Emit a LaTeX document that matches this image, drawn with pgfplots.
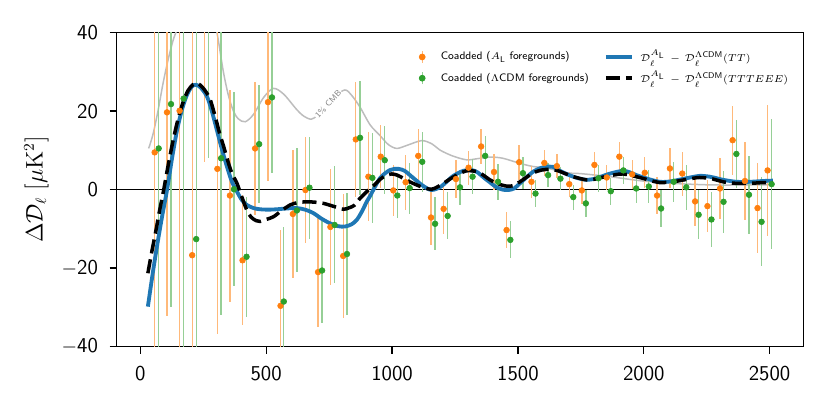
\documentclass[border=0pt]{standalone}
\usepackage{pgfplots}
\pgfplotsset{compat=1.18}
\usepackage{pgfplotstable}
\definecolor{mblue}{HTML}{1F77B4}
\definecolor{morange}{HTML}{FF7F0E}
\definecolor{mgreen}{HTML}{2CA02C}
\definecolor{mgray}{HTML}{BDBDBD}

\pgfplotstableread{
l v e
57 9.5 55
106 19.7 52
156 20.1 62
206 -16.7 62
256 44 37
306 5.3 42
356 -1.5 27
406 -18.0 16.6
456 10.5 17
507 22.3 20
557 -29.6 19.3
606 -6.2 16.2
656 -0.1 13.4
706 -21.0 14
755 -9.5 14.8
806 -16.9 15.7
856 12.8 14.7
906 3.3 11.4
955 8.4 8.1
1005 -0.2 6.5
1054 1.9 7
1104 8.6 6.8
1155 -7.1 7
1205 -4.9 6.5
1254 2.7 4.9
1304 5.6 4.3
1354 11.0 4.4
1405 4.5 4.7
1455 -10.3 4.6
1505 7.0 4.5
1554 2.0 4.0
1605 6.8 3.2
1655 6.0 3.1
1704 1.4 3.2
1754 -0.2 3.4
1804 6.3 3.2
1853 3.1 3.2
1903 8.4 3.7
1954 3.9 3.7
2004 4.3 4.0
2053 -1.5 4.7
2104 5.4 5.1
2153 4.1 5.6
2204 -3.0 6.3
2253 -4.2 6.7
2303 0.3 7.8
2353 12.6 8.8
2402 2.2 10
2452 -4.7 11.4
2492 4.9 16.6
}\orangedata

\pgfplotstableread{
l v e
73 10.5 55
122 21.8 51.6
172 23.2 65
222 -12.6 60
271 46 38
321 8.0 40
372 0.1 24.7
422 -17.1 15.3
472 11.6 15
523 23.5 19.3
570 -28.5 19.1
622 -5.3 15.8
672 0.5 13
722 -20.6 13.5
772 -9.0 14.9
821 -16.4 15.5
873 13.2 14.5
922 3.0 11.4
971 7.5 8.7
1021 -1.5 5.8
1070 0.4 6.5
1120 7.1 7.6
1171 -8.7 6.8
1221 -6.7 6
1270 0.6 4.5
1320 3.3 4.4
1370 8.6 5.1
1421 2.0 4.6
1470 -12.8 4.7
1520 4.2 4.0
1570 -1.0 3.5
1620 3.7 3.0
1669 2.8 3.0
1720 -1.9 3.2
1770 -3.5 3.4
1820 2.9 3.4
1869 -0.4 3.4
1919 4.9 3.4
1970 0.3 3.8
2020 0.8 4.2
2069 -4.8 4.8
2119 2.0 5.1
2169 0.6 5.7
2218 -6.4 6.3
2269 -7.6 7.0
2317 -3.1 7.9
2368 9.1 8.7
2418 -1.3 10
2468 -8.2 11.3
2508 1.4 16.5
}\greendata

\pgfplotstableread{
l v
30 -29.8
50 -21
66 -14.5
86 -7
106 -0.1
126 8
146 15.2
166 20.5
185 24.1
205 26.3
222 26.7
240 26
265 23.7
285 19.8
304 15.2
324 10.3
344 5.9
364 2
384 -0.5
403 -2.6
423 -3.9
450 -4.7
476 -5.0
510 -5.1
542 -5.0
580 -4.8
622 -4.7
655 -5.1
688 -6.0
720 -7.4
754 -8.6
785 -9.3
813 -9.4
840 -8.8
860 -7.7
880 -5.6
900 -3.0
913 -1.6
952 2.9
992 5.0
1025 5.3
1050 4.8
1071 3.7
1095 2.4
1118 1.2
1140 0.3
1157 -0.1
1177 0.2
1197 0.9
1220 2.2
1243 3.5
1283 4.8
1316 5.0
1340 4.4
1362 3.2
1390 1.8
1415 0.6
1440 0.0
1462 -0.1
1485 0.3
1508 1.6
1535 3.2
1561 4.6
1590 5.5
1620 5.9
1640 5.8
1667 4.8
1693 4.0
1720 3.3
1746 2.8
1772 2.5
1800 2.7
1825 3.2
1852 3.8
1878 4.3
1918 4.8
1945 4.4
1971 3.7
2000 3.1
2024 2.6
2063 2.0
2090 2.0
2116 2.2
2169 2.9
2222 3.5
2262 3.3
2290 2.9
2315 2.5
2368 2.0
2421 2.0
2473 2.2
2513 2.3
}\bluedata

\pgfplotstableread{
l v
30 -21.3
45 -16
60 -11.1
76 -5.5
93 0
110 6
130 12.5
150 18
170 22.3
190 25.3
210 26.8
227 27.1
245 26.2
262 24.8
278 22.9
300 18
315 14.3
331 11
350 6.8
365 4
384 1.6
403 -1.8
423 -5.2
440 -7
460 -7.9
476 -8.1
500 -7.6
529 -6.9
560 -5.4
595 -3.9
625 -3.3
661 -3.1
695 -3.2
728 -3.5
770 -4.3
807 -5.0
830 -4.6
850 -4.0
873 -2.2
906 -0.1
930 1.2
952 2.6
975 3.6
999 4.0
1020 3.7
1045 2.9
1070 2.0
1098 1.2
1125 0.5
1157 0.1
1180 0.7
1204 1.6
1230 2.7
1257 3.7
1296 4.8
1336 4.6
1360 3.8
1389 2.5
1420 1.5
1455 0.9
1480 1.0
1508 2.0
1535 3.2
1561 4.3
1595 5.0
1627 5.2
1655 4.9
1680 4.3
1720 3.3
1772 2.5
1800 2.6
1825 3.0
1878 3.7
1918 4.0
1971 3.3
2024 2.4
2063 1.8
2116 2.0
2169 2.6
2222 3.1
2275 2.7
2315 2.0
2368 1.6
2421 1.6
2473 1.8
2513 1.8
}\blackdata

\pgfplotstableread{
l v
33 10.5
50 14
70 20
90 27
110 33
130 38
150 42
180 52
220 57
260 52
290 45
310 38
330 30
350 24
370 20
390 18
417 17.3
450 19.2
490 23.5
529 25.8
570 24.3
620 20.5
650 18.7
681 18.0
720 19.8
770 23.6
813 25.4
840 24
873 21
913 16.5
952 13.8
985 11.5
1019 10.5
1060 11.3
1118 12.5
1160 11.6
1190 10.1
1240 8.6
1296 7.6
1340 7.9
1390 8.3
1440 8.0
1508 6.7
1560 5.9
1614 5.5
1693 4.3
1746 4.1
1825 3.6
1878 3.2
1958 2.5
2011 2.1
2080 1.8
2143 1.5
2275 1.2
2407 1.2
2500 1.2
}\graydata

\begin{document}
\begin{tikzpicture}
\begin{axis}[name=ax, scale only axis, width=412pt, height=188.4pt,
  xmin=-94, xmax=2634, ymin=-40, ymax=40,
  xtick={0,500,1000,1500,2000,2500}, xticklabels={0,500,1000,1500,2000,2500},
  ytick={-40,-20,0,20,40}, yticklabels={{$-$40},{$-$20},0,20,40},
  tick align=outside, tick pos=left, major tick length=4.2pt,
  tick style={black, line width=0.8pt},
  axis line style={line width=1pt},
  tick label style={font=\sffamily\fontsize{12.7}{14}\selectfont},
  xticklabel style={yshift=-4pt},
  yticklabel style={xshift=-3.5pt},
  ylabel={$\Delta\mathcal{D}_\ell\ [\mu\mathrm{K}^2]$},
  ylabel style={font=\fontsize{13.3}{15}\selectfont},
  ylabel shift=1pt,
  legend columns=2,
  legend style={at={(0.427,0.968)}, anchor=north west, draw=none, fill=none,
     font=\sffamily\fontsize{6.5}{8}\selectfont, cells={anchor=west}, column sep=2pt},
]
\addplot[black, line width=0.6pt, forget plot] coordinates {(-94,0) (2634,0)};
\addplot[mgray, line width=0.9pt, smooth, forget plot] table[x=l,y=v]{\graydata};
\node[font=\sffamily\fontsize{5}{6}\selectfont, text=gray, fill=white, inner sep=0.6pt, rotate=47] at (axis cs:746,21.8) {1\% CMB};
\addplot[only marks, mark=*, mark size=0pt, mark options={draw=none, fill=none}, forget plot, error bars/.cd, y dir=both, y explicit, error mark=none,
  error bar style={draw=morange!55!white, line width=0.8pt}] table[x=l,y=v,y error=e]{\orangedata};
\addplot[only marks, mark=*, mark size=0pt, mark options={draw=none, fill=none}, forget plot, error bars/.cd, y dir=both, y explicit, error mark=none,
  error bar style={draw=mgreen!50!white, line width=0.8pt}] table[x=l,y=v,y error=e]{\greendata};
\addplot[mblue, line width=2.3pt, smooth, forget plot] table[x=l,y=v]{\bluedata};
\addplot[black, line width=2.1pt, dash pattern=on 8.5pt off 3.6pt, smooth, forget plot] table[x=l,y=v]{\blackdata};
\addplot[only marks, mark=*, mark size=1.7pt, mark options={draw=morange, fill=morange}, forget plot] table[x=l,y=v]{\orangedata};
\addplot[only marks, mark=*, mark size=1.7pt, mark options={draw=mgreen, fill=mgreen}, forget plot] table[x=l,y=v]{\greendata};

\addlegendimage{legend image code/.code={\path (0pt,0pt) (11pt,0pt); \draw[morange!55!white, line width=0.8pt] (4pt,-3.5pt)--(4pt,3.5pt); \fill[morange] (4pt,0pt) circle (1.8pt);}}
\addlegendentry{Coadded ($A_{\mathsf{L}}$ foregrounds)}
\addlegendimage{legend image code/.code={\path (-6pt,0pt); \draw[mblue, line width=2.3pt] (0pt,0pt)--(15.6pt,0pt);}}
\addlegendentry{$\mathcal{D}_\ell^{A_{\mathsf{L}}}\, -\, \mathcal{D}_\ell^{\Lambda\mathsf{CDM}}(TT)$}
\addlegendimage{legend image code/.code={\path (0pt,0pt) (11pt,0pt); \draw[mgreen!50!white, line width=0.8pt] (4pt,-3.5pt)--(4pt,3.5pt); \fill[mgreen] (4pt,0pt) circle (1.8pt);}}
\addlegendentry{Coadded ($\Lambda$CDM foregrounds)}
\addlegendimage{legend image code/.code={\path (-6pt,0pt); \draw[black, line width=2.1pt, dash pattern=on 8.5pt off 3.6pt] (0pt,0pt)--(15.6pt,0pt);}}
\addlegendentry{$\mathcal{D}_\ell^{A_{\mathsf{L}}}\, -\, \mathcal{D}_\ell^{\Lambda\mathsf{CDM}}(TTTEEE)$}
\end{axis}
\pgfresetboundingbox
\useasboundingbox ([shift={(-70pt,-40.4pt)}]ax.south west) rectangle ([shift={(16pt,19.6pt)}]ax.north east);
\end{tikzpicture}
\end{document}
